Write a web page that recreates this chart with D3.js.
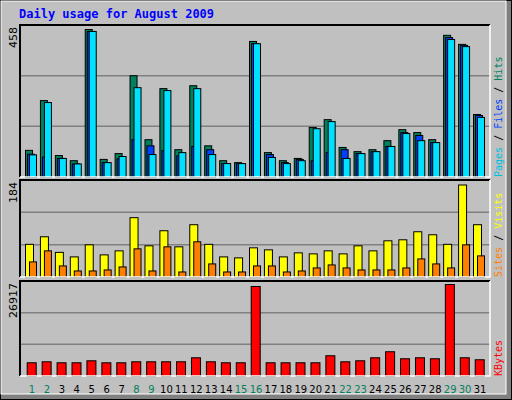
<!DOCTYPE html>
<html><head><meta charset="utf-8">
<script src="https://cdn.jsdelivr.net/npm/d3@7"></script>
<style>body{margin:0;background:#fff}</style>
</head><body><div id="chart"></div>
<script>
const days = d3.range(1, 32);
const weekends = [1, 2, 8, 9, 15, 16, 22, 23, 29, 30];
const hits = [84,238,68,52,458,56,74,315,117,275,86,284,98,52,46,421,77,52,59,155,179,93,80,86,114,148,139,117,440,412,195];
const files = [72,63,59,42,452,46,58,117,98,83,67,96,86,43,43,414,71,46,56,52,77,86,74,80,96,139,130,108,433,409,192];
const pages = [70,232,59,42,452,46,65,278,71,269,77,275,71,43,43,414,62,43,52,151,173,59,74,80,96,136,114,108,427,405,186];
const visits = [66,81,50,41,65,45,53,119,63,93,61,105,66,41,39,59,55,41,49,47,53,47,63,53,73,75,91,85,66,184,105];
const sites = [31,53,23,13,13,15,21,57,13,61,11,71,27,11,11,23,23,11,13,19,25,19,15,15,15,19,37,27,19,65,43];
const kbytes = [4013,4307,4013,4013,4600,4013,4013,4307,4307,4307,4307,5481,4307,4013,4013,26330,4013,4013,4013,4013,6069,4307,4600,5481,7243,5188,5481,5188,26917,5481,4894];

const W = 512, H = 400;
const svg = d3.select("#chart").append("svg").attr("width", W).attr("height", H);
const font = "DejaVu Sans Mono";

svg.append("rect").attr("width", W).attr("height", H).attr("fill", "#c0c0c0");
svg.append("rect").attr("x", 0.5).attr("y", 0.5).attr("width", W - 1).attr("height", H - 1)
  .attr("fill", "none").attr("stroke", "#000");
svg.append("rect").attr("x", W - 6).attr("y", 1).attr("width", 5).attr("height", H - 2).attr("fill", "#808080");
svg.append("rect").attr("x", 1).attr("y", H - 6).attr("width", W - 2).attr("height", 5).attr("fill", "#808080");
svg.append("rect").attr("x", 1).attr("y", 1).attr("width", W - 7).attr("height", H - 7)
  .attr("fill", "none").attr("stroke", "#fff");

svg.append("text").attr("x", 19).attr("y", 18).attr("font-family", font).attr("font-weight", "bold")
  .attr("font-size", 12).attr("fill", "#0000ff").text("Daily usage for August 2009");

const x = d3.scaleLinear().domain([1, 31]).range([25, 473]);

function panel(top, bottom, max, maxTop, label, series, legend) {
  svg.append("rect").attr("x", 20).attr("y", top).attr("width", 470).attr("height", bottom - top).attr("fill", "#c0c0c0");
  const h = bottom - top;
  [1 / 3, 2 / 3].forEach(f => svg.append("line").attr("x1", 20).attr("x2", 490)
    .attr("y1", top + h * f).attr("y2", top + h * f).attr("stroke", "#808080").attr("stroke-width", 1.5));
  const y = d3.scaleLinear().domain([0, max]).range([bottom, maxTop]);
  series.forEach(s => {
    svg.append("g").selectAll("rect").data(s.data).join("rect")
      .attr("x", (d, i) => x(days[i]) + s.dx + 0.5)
      .attr("y", d => y(d) + 0.5)
      .attr("width", s.w - 1)
      .attr("height", d => bottom - y(d))
      .attr("fill", s.color).attr("stroke", "#000");
  });
  svg.append("path").attr("d", `M20,${bottom}V${top}H490`).attr("fill", "none").attr("stroke", "#000").attr("stroke-width", 2);
  svg.append("path").attr("d", `M490,${top}V${bottom}H20`).attr("fill", "none").attr("stroke", "#fff").attr("stroke-width", 1.5);
  svg.append("text").attr("transform", `translate(17,${top + 2}) rotate(-90)`).attr("text-anchor", "end")
    .attr("font-family", "DejaVu Sans").attr("font-size", 11).attr("fill", "#000").text(label);
  const t = svg.append("text").attr("transform", `translate(502,${bottom}) rotate(-90)`)
    .attr("font-family", font).attr("font-size", 10);
  legend.forEach(([txt, c]) => t.append("tspan").attr("fill", c).text(txt));
}

panel(25, 177, 458, 29, "458", [
  { data: hits, dx: 0, w: 8, color: "#00805c" },
  { data: files, dx: 2, w: 8, color: "#0040ff" },
  { data: pages, dx: 4, w: 8, color: "#00e0ff" }
], [["Pages", "#00c0e0"], [" / ", "#000"], ["Files", "#0040ff"], [" / ", "#000"], ["Hits", "#00805c"]]);

panel(180, 277, 184, 184.5, "184", [
  { data: visits, dx: 0, w: 9, color: "#ffff00" },
  { data: sites, dx: 4, w: 8, color: "#ff8000" }
], [["Sites", "#ff8000"], [" / ", "#000"], ["Visits", "#ffff00"]]);

panel(281, 376, 26917, 284, "26917", [
  { data: kbytes, dx: 1.7, w: 10, color: "#ff0000" }
], [["KBytes", "#ff0000"]]);

svg.append("g").selectAll("text").data(days).join("text")
  .attr("x", d => x(d) + 7).attr("y", 393).attr("text-anchor", "middle")
  .attr("font-family", "DejaVu Sans").attr("font-size", 10)
  .attr("fill", d => weekends.includes(d) ? "#00805c" : "#000").text(d => d);
</script></body></html>
